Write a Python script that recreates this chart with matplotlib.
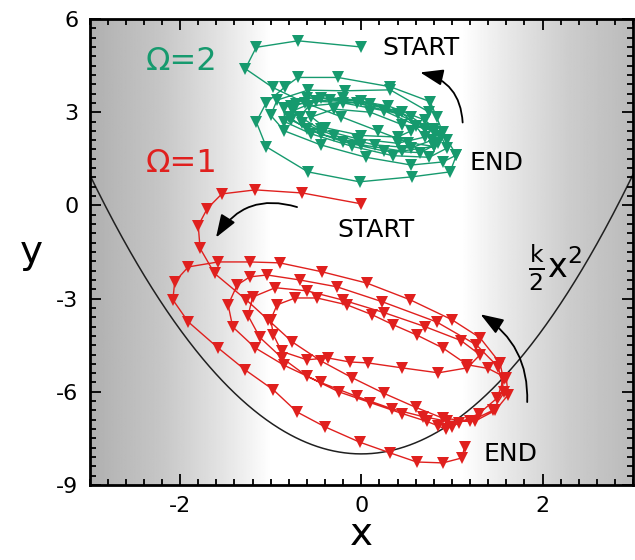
import numpy as np
import matplotlib
matplotlib.use("Agg")
import matplotlib.pyplot as plt
from matplotlib.patches import FancyArrowPatch
from matplotlib.ticker import MultipleLocator

plt.rcParams['axes.unicode_minus'] = False

# trajectory for Omega = 1 (x, y)
red_path = [
    (0.00, 0.05), (-0.65, 0.40), (-1.17, 0.50), (-1.54, 0.37), (-1.70, -0.10),
    (-1.80, -0.65), (-1.78, -1.38), (-1.62, -2.19), (-1.27, -3.04), (-1.03, -3.68),
    (-0.76, -4.40), (-0.45, -5.00), (-0.10, -5.55), (0.25, -6.05), (0.60, -6.50),
    (0.90, -6.85), (1.20, -6.95), (1.45, -6.60), (1.58, -6.00), (1.51, -5.20),
    (1.27, -4.49), (0.83, -3.75), (0.23, -3.10), (-0.27, -2.62), (-0.68, -2.40),
    (-1.04, -2.24), (-1.23, -2.30), (-1.37, -2.56), (-1.47, -3.20), (-1.42, -3.91),
    (-1.17, -4.59), (-0.85, -5.15), (-0.45, -5.70), (-0.05, -6.15), (0.34, -6.55),
    (0.68, -6.80), (0.95, -6.95), (1.25, -6.95), (1.48, -6.60), (1.62, -6.10),
    (1.60, -5.55), (1.40, -5.25),
    (1.17, -5.13), (0.90, -4.59), (0.61, -4.17), (0.35, -3.84), (0.12, -3.52),
    (-0.16, -3.20), (-0.49, -2.98), (-0.73, -2.98), (-0.93, -3.20), (-1.00, -3.68),
    (-0.97, -4.17), (-0.88, -4.70), (-0.60, -4.97), (-0.37, -4.91), (-0.13, -5.04),
    (0.07, -5.07), (0.45, -5.23), (0.85, -5.39), (1.17, -5.23), (1.31, -4.81),
    (1.10, -4.35), (0.70, -3.90), (0.25, -3.45), (-0.20, -3.05), (-0.60, -2.75),
    (-0.95, -2.65), (-1.20, -2.95), (-1.25, -3.55), (-1.12, -4.25), (-0.88, -4.90),
    (-0.60, -5.50), (-0.25, -6.00), (0.10, -6.35), (0.45, -6.70), (0.72, -6.95),
    (0.85, -7.10), (0.93, -7.20), (1.00, -7.12), (1.08, -7.00), (1.30, -6.70),
    (1.50, -6.20), (1.57, -5.60), (1.53, -5.07),
    (1.31, -4.26), (1.00, -3.68), (0.54, -3.04), (0.06, -2.50), (-0.43, -2.14),
    (-0.90, -1.85), (-1.23, -1.82), (-1.58, -1.82), (-1.91, -1.98), (-2.06, -2.46),
    (-2.08, -3.04), (-1.91, -3.75), (-1.58, -4.59), (-1.28, -5.30), (-0.97, -5.94),
    (-0.71, -6.65), (-0.40, -7.13), (-0.02, -7.62), (0.32, -7.97), (0.61, -8.26),
    (0.90, -8.29), (1.11, -8.13), (1.14, -7.78),
]

# trajectory for Omega = 2
green_path = [
    (0.00, 5.10), (-0.70, 5.30), (-1.16, 5.09), (-1.28, 4.40), (-0.98, 3.80),
    (-0.62, 3.30), (-0.22, 2.85), (0.18, 2.40), (0.52, 2.02), (0.80, 1.90),
    (0.90, 2.35), (0.83, 2.85), (0.76, 3.34), (0.32, 3.82), (-0.26, 4.12),
    (-0.70, 4.12), (-0.84, 3.82), (-1.05, 3.30), (-1.16, 2.69), (-1.05, 1.89),
    (-0.59, 1.08), (-0.02, 0.76), (0.56, 0.92), (0.98, 1.08), (1.05, 1.62),
    (0.95, 2.10),
    (0.70, 2.75), (0.30, 3.20), (-0.20, 3.45), (-0.60, 3.45), (-0.85, 3.15),
    (-0.85, 2.70), (-0.55, 2.30), (-0.10, 1.90), (0.35, 1.60), (0.75, 1.55),
    (0.95, 1.85), (0.87, 2.25),
    (0.55, 2.85), (0.10, 3.25), (-0.35, 3.40), (-0.72, 3.25), (-0.80, 2.85),
    (-0.60, 2.45), (-0.20, 2.05), (0.25, 1.75), (0.65, 1.70), (0.85, 2.00),
    (0.80, 2.35),
    (0.40, 2.95), (-0.05, 3.30), (-0.50, 3.35), (-0.75, 3.05), (-0.65, 2.65),
    (-0.30, 2.25), (0.15, 1.95), (0.55, 1.85), (0.78, 2.10), (0.70, 2.45),
    (0.25, 3.05), (-0.20, 3.30), (-0.58, 3.20), (-0.68, 2.85), (-0.45, 2.45),
    (-0.05, 2.15), (0.40, 2.00), (0.70, 2.20), (0.60, 2.55),
    (0.45, 3.00), (0.00, 3.35), (-0.45, 3.45), (-0.78, 3.20), (-0.78, 2.75),
    (-0.45, 2.30), (0.00, 1.95), (0.45, 1.75), (0.80, 1.90), (0.80, 2.45),
    (0.45, 2.60), (0.10, 3.00), (-0.30, 3.10), (-0.55, 2.85), (-0.40, 2.50),
    (0.00, 2.25), (0.40, 2.20), (0.55, 2.40),
    (0.75, 3.00), (0.32, 3.72), (-0.18, 3.69), (-0.59, 3.71), (-0.93, 3.39),
    (-1.00, 2.90), (-0.85, 2.40), (-0.45, 1.95), (0.05, 1.55), (0.55, 1.30),
    (0.90, 1.40), (1.05, 1.62),
]

# potential well k/2 x^2 shifted down
k = 2.0
well_bottom = -8.0

# background shading (x position, grey level)
shade_x = [-3.0, -2.2, -1.5, -1.0, 1.1, 1.6, 2.3, 3.0]
shade_g = [0.69, 0.78, 0.90, 1.00, 1.00, 0.91, 0.80, 0.73]

red = '#e0201e'
green = '#169a6e'

fig = plt.figure(figsize=(6.35, 5.6), dpi=100)
ax = fig.add_axes([0.141, 0.134, 0.856, 0.832])

xs = np.linspace(-3, 3, 600)
grey = np.interp(xs, shade_x, shade_g)
ax.imshow(np.tile(grey, (2, 1)), cmap='gray', vmin=0, vmax=1, aspect='auto',
          extent=[-3, 3, -9, 6], origin='lower', zorder=0)

ax.plot(xs, k / 2 * xs ** 2 + well_bottom, color='#202020', lw=1.1, zorder=1)

rp = np.array(red_path)
gp = np.array(green_path)
ax.plot(rp[:, 0], rp[:, 1], color=red, lw=1.0, marker='v', ms=8,
        markeredgewidth=0, zorder=3)
ax.plot(gp[:, 0], gp[:, 1], color=green, lw=1.0, marker='v', ms=8,
        markeredgewidth=0, zorder=3)

ax.text(-1.98, 4.62, 'Ω=2', color=green, fontsize=23, ha='center', va='center')
ax.text(-1.98, 1.36, 'Ω=1', color=red, fontsize=23, ha='center', va='center')
ax.text(0.66, 5.07, 'START', fontsize=18, ha='center', va='center')
ax.text(1.49, 1.36, 'END', fontsize=18, ha='center', va='center')
ax.text(0.16, -0.79, 'START', fontsize=18, ha='center', va='center')
ax.text(1.65, -8.0, 'END', fontsize=18, ha='center', va='center')
ax.text(2.14, -2.0, r'$\frac{\mathrm{k}}{2}\mathrm{x}^2$', fontsize=24,
        ha='center', va='center')

arrows = [((1.12, 2.58), (0.62, 4.30), 0.4),
          ((-0.68, -0.08), (-1.62, -1.11), 0.4),
          ((1.83, -6.42), (1.29, -3.46), 0.3)]
for a, b, rad in arrows:
    ax.add_patch(FancyArrowPatch(a, b, connectionstyle='arc3,rad=%.2f' % rad,
                                 arrowstyle='-|>,head_length=0.7,head_width=0.25',
                                 mutation_scale=20, lw=1.3,
                                 color='black', zorder=4))

ax.set_xlim(-3, 3)
ax.set_ylim(-9, 6)
ax.xaxis.set_major_locator(MultipleLocator(2))
ax.xaxis.set_minor_locator(MultipleLocator(0.2))
ax.yaxis.set_major_locator(MultipleLocator(3))
ax.yaxis.set_minor_locator(MultipleLocator(0.3))
ax.tick_params(which='both', direction='in', top=True, right=True, labelsize=16,
               width=1.3, pad=8)
ax.tick_params(which='major', length=8)
ax.tick_params(which='minor', length=4)
for s in ax.spines.values():
    s.set_linewidth(2)
ax.set_xlabel('x', fontsize=28, labelpad=-1)
ax.set_ylabel('y', fontsize=28, rotation=0, labelpad=18, va='center')

fig.savefig('out.png', dpi=100)
